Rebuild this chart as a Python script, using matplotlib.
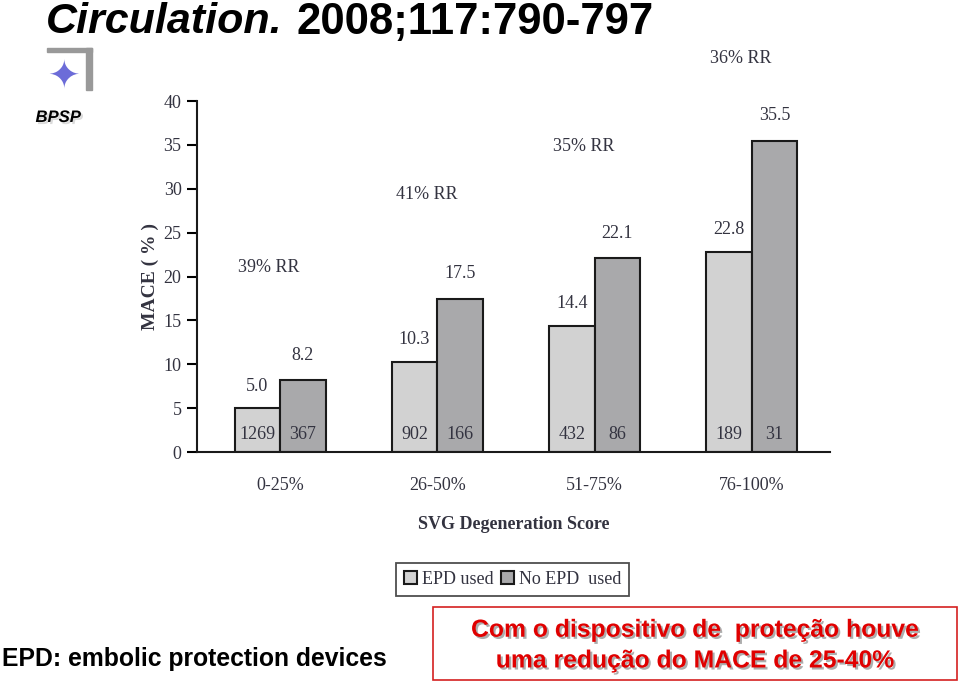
import numpy as np
import matplotlib.pyplot as plt
import matplotlib.patches as mpatches
import matplotlib.patheffects as pe

groups = ['0-25%', '26-50%', '51-75%', '76-100%']
epd_used = [5.0, 10.3, 14.4, 22.8]
no_epd = [8.2, 17.5, 22.1, 35.5]
n_epd = [1269, 902, 432, 189]
n_no_epd = [367, 166, 86, 31]
rr_labels = ['39% RR', '41% RR', '35% RR', '36% RR']
rr_y = [21.0, 29.4, 34.8, 44.9]

serif = 'Liberation Serif'
sans = 'Liberation Sans'
txt_col = '#333340'

fig = plt.figure(figsize=(9.6, 6.83), dpi=100)
ax = fig.add_axes([0.205, 0.338, 0.66, 0.514])

x = np.arange(len(groups))
w = 0.29
b1 = ax.bar(x - w / 2, epd_used, w, color='#d2d2d2', edgecolor='#1a1a1a', linewidth=1.5, label='EPD used')
b2 = ax.bar(x + w / 2, no_epd, w, color='#a9a9ab', edgecolor='#1a1a1a', linewidth=1.5, label='No EPD  used')

for i in range(len(groups)):
    ax.annotate(f'{epd_used[i]:.1f}', (x[i] - w / 2, epd_used[i]), xytext=(0, 16), textcoords='offset points',
                ha='center', va='center', fontsize=13, family=serif, color=txt_col)
    ax.annotate(f'{no_epd[i]:.1f}', (x[i] + w / 2, no_epd[i]), xytext=(0, 18), textcoords='offset points',
                ha='center', va='center', fontsize=13, family=serif, color=txt_col)
    ax.text(x[i] - w / 2, 2.0, str(n_epd[i]), ha='center', va='center', fontsize=13, family=serif, color=txt_col)
    ax.text(x[i] + w / 2, 2.0, str(n_no_epd[i]), ha='center', va='center', fontsize=13, family=serif, color=txt_col)
    ax.text(x[i] - 0.07, rr_y[i], rr_labels[i], ha='center', va='center', fontsize=13, family=serif,
            color=txt_col, clip_on=False)

ax.set_xlim(-0.53, 3.5)
ax.set_ylim(0, 40)
ax.set_yticks(range(0, 41, 5))
ax.set_xticks(x)
ax.set_xticklabels(groups, family=serif, fontsize=13, color=txt_col)
ax.tick_params(axis='x', length=0, pad=18)
ax.tick_params(axis='y', direction='out', length=7, width=1.5, labelsize=13, pad=4, labelcolor=txt_col)
for lab in ax.get_yticklabels():
    lab.set_family(serif)
for s in ['top', 'right']:
    ax.spines[s].set_visible(False)
for s in ['left', 'bottom']:
    ax.spines[s].set_linewidth(1.5)
    ax.spines[s].set_color('#1a1a1a')

ax.set_ylabel('MACE ( % )', family=serif, fontsize=14, fontweight='bold', color=txt_col, labelpad=3)
ax.set_xlabel('SVG Degeneration Score', family=serif, fontsize=13, fontweight='bold', color=txt_col, labelpad=16)

leg = fig.legend(handles=[b1, b2], loc='center', bbox_to_anchor=(0.534, 0.152), ncol=2, frameon=True,
                 prop={'family': serif, 'size': 13}, handlelength=0.7, handleheight=0.7, handletextpad=0.3,
                 columnspacing=0.4, borderpad=0.45, fancybox=False, edgecolor='#222222')
leg.get_frame().set_linewidth(1.3)
for t in leg.get_texts():
    t.set_color(txt_col)

# title: bold italic journal name, then bold citation
t1 = fig.text(0.048, 0.997, 'Circulation.', ha='left', va='top', fontsize=31, family=sans, style='italic',
              fontweight='bold')
fig.canvas.draw()
bb = t1.get_window_extent().transformed(fig.transFigure.inverted())
fig.text(bb.x1 + 0.014, 0.997, '2008;117:790-797', ha='left', va='top', fontsize=31.5, family=sans,
         fontweight='bold')

# logo
fig.patches.append(mpatches.Rectangle((0.049, 0.924), 0.047, 0.006, transform=fig.transFigure, color='#999999'))
fig.patches.append(mpatches.Rectangle((0.090, 0.868), 0.006, 0.062, transform=fig.transFigure, color='#999999'))
fig.text(0.066, 0.887, '\u2726', ha='center', va='center', fontsize=28, color='#6c6cd8', family='DejaVu Sans')
fig.text(0.037, 0.828, 'BPSP', ha='left', va='center', fontsize=12, family=sans, style='italic',
         fontweight='bold', path_effects=[pe.withSimplePatchShadow(offset=(1.5, -1.5), shadow_rgbFace='#888888')])

# footnote
fig.text(0.002, 0.035, 'EPD: embolic protection devices', ha='left', va='center', fontsize=17.8, family=sans,
         fontweight='bold')

# red box
fig.patches.append(mpatches.Rectangle((0.451, 0.005), 0.546, 0.106, transform=fig.transFigure,
                                      fill=False, edgecolor='#d42020', linewidth=1.2))
shadow = [pe.withSimplePatchShadow(offset=(1.5, -1.5), shadow_rgbFace='#999999', alpha=0.8)]
fig.text(0.724, 0.078, 'Com o dispositivo de  proteção houve', ha='center', va='center', fontsize=17.8,
         family=sans, fontweight='bold', color='#e00000', path_effects=shadow)
fig.text(0.724, 0.033, 'uma redução do MACE de 25-40%', ha='center', va='center', fontsize=17.8,
         family=sans, fontweight='bold', color='#e00000', path_effects=shadow)

plt.savefig('out.png', dpi=100)
